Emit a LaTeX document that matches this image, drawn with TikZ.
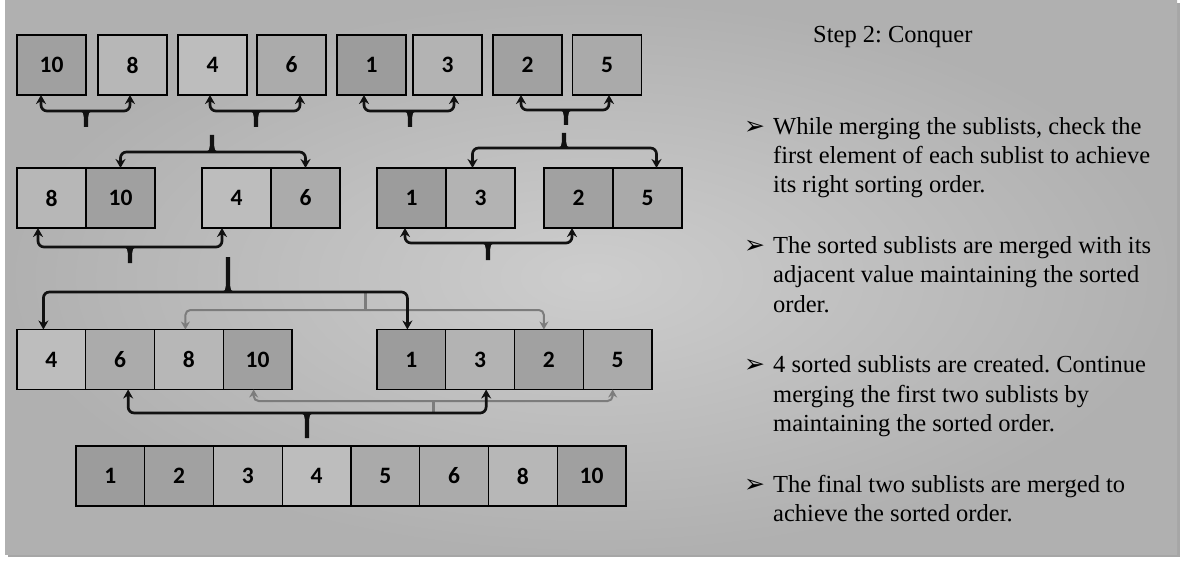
\documentclass[tikz,border=0pt]{standalone}
\usepackage{fontspec}
\setmainfont{Liberation Serif}
\newfontfamily\numfont{Carlito}
\newfontfamily\symfont{DejaVu Sans}
\usepackage{tikz}
\usetikzlibrary{positioning,arrows.meta,shadows}
\definecolor{bgin}{HTML}{CDCDCD}
\definecolor{bgout}{HTML}{B0B0B0}
\definecolor{v1}{HTML}{9C9C9C}
\definecolor{v2}{HTML}{A1A1A1}
\definecolor{v3}{HTML}{B3B3B3}
\definecolor{v4}{HTML}{BDBDBD}
\definecolor{v5}{HTML}{AAAAAA}
\definecolor{v6}{HTML}{ABABAB}
\definecolor{v8}{HTML}{B7B7B7}
\definecolor{v10}{HTML}{A0A0A0}
\definecolor{link}{HTML}{111111}
\definecolor{link2}{HTML}{7C7C7C}
\tikzset{
  cell/.style={draw=black, line width=1.1pt, minimum width=68.75pt, minimum height=60pt,
    inner sep=0pt, outer sep=0pt, font=\numfont\bfseries\fontsize{23.5}{23.5}\selectfont},
  merge/.style={draw=link, line width=2.7pt, rounded corners=6pt,
    arrows={Stealth[length=9pt,width=10pt]-Stealth[length=9pt,width=10pt]}},
  graymerge/.style={draw=link2, line width=2pt, rounded corners=5pt,
    arrows={Stealth[length=8pt,width=9pt]-Stealth[length=8pt,width=9pt]}},
  graystem/.style={draw=link2, line width=3pt},
  textline/.style={anchor=base west, inner sep=0pt, font=\fontsize{24.5}{29.5}\selectfont},
  pointer/.style={anchor=base west, inner sep=0pt, font=\symfont\fontsize{25}{25}\selectfont},
  pics/tip/.style={code={\fill[link] (-6,0) to[out=0,in=90] (-2.2,-6) -- (-2.2,-#1)
    -- (2.2,-#1) -- (2.2,-6) to[out=90,in=180] (6,0) -- cycle;}}
}

\begin{document}
\frenchspacing
\begin{tikzpicture}[x=1pt,y=1pt]
  \useasboundingbox (0,0) rectangle (1186,-564);
  \fill[white] (0,0) rectangle (1186,-564);
  \shade[drop shadow={shadow xshift=3pt,shadow yshift=-3pt,opacity=0.35,fill=black},
    inner color=bgin, outer color=bgout] (5,0) rectangle (1177,-554);

  % single values
  \foreach \v/\x in {10/51.5,8/132.5,4/212.5,6/291.5,1/371.5,3/447.5,2/527.5,5/607}
    \node[cell, fill=v\v, minimum width=69pt] (t\v) at (\x,-65) {\v};

  % pairs
  \foreach \v/\w/\x in {8/10/51.5,4/6/236.5,1/3/411.5,2/5/578.5}{
    \node[cell, fill=v\v, minimum width=69pt] (a\v) at (\x,-198) {\v};
    \node[cell, fill=v\w, minimum width=69pt, right=0pt of a\v] (a\w) {\w};
  }

  % groups of four
  \node[cell, fill=v4] (b4) at (51.4,-359.5) {4};
  \node[cell, fill=v1] (b1) at (411.4,-359.5) {1};
  \foreach \v/\p in {6/4,8/6,10/8,3/1,2/3,5/2}
    \node[cell, fill=v\v, right=0pt of b\p] (b\v) {\v};

  % sorted list
  \node[cell, fill=v1] (c1) at (110.4,-476) {1};
  \foreach \v/\p in {2/1,3/2,4/3,5/4,6/5,8/6,10/8}
    \node[cell, fill=v\v, right=0pt of c\p] (c\v) {\v};

  % merge joints
  \coordinate (j1) at (86,-111);
  \coordinate (j2) at (256,-111);
  \coordinate (j3) at (410,-111);
  \coordinate (j4) at (566,-110);
  \coordinate (j5) at (212,-152);
  \coordinate (j6) at (564,-148);
  \coordinate (j7) at (130,-247);
  \coordinate (j8) at (488,-243);
  \coordinate (j9) at (228,-292);
  \coordinate (j10) at (365,-310);
  \coordinate (j11) at (307,-413);
  \coordinate (j12) at (433,-401);

  % gray links
  \draw[graymerge] ([xshift=-3.5pt]b8.north) |- (j10) -| ([xshift=-5pt]b2.north);
  \draw[graystem] (j10) -- ++(0,17);
  \draw[graymerge] ([xshift=-4pt]b10.south) |- (j12) -| ([xshift=-5pt]b5.south);
  \draw[graystem] (j12) -- ++(0,-12);

  % black links
  \draw[merge] ([xshift=-10.5pt]t10.south) |- (j1) -| ([xshift=-2.5pt]t8.south);
  \pic at (j1) {tip=16};
  \draw[merge] ([xshift=-2.5pt]t4.south) |- (j2) -| ([xshift=8.5pt]t6.south);
  \pic at (j2) {tip=16};
  \draw[merge] ([xshift=-7.5pt]t1.south) |- (j3) -| ([xshift=6.5pt]t3.south);
  \pic at (j3) {tip=16};
  \draw[merge] ([xshift=-6.5pt]t2.south) |- (j4) -| ([xshift=2pt]t5.south);
  \pic at (j4) {tip=15};

  \draw[merge] (a10.north) |- (j5) -| (a6.north);
  \path (j5) pic[yscale=-1] {tip=17};
  \draw[merge] ([xshift=-8pt]a3.north) |- (j6) -| ([xshift=9pt]a5.north);
  \path (j6) pic[yscale=-1] {tip=15};

  \draw[merge] ([xshift=-13.5pt]a8.south) |- (j7) -| ([xshift=-14.5pt]a4.south);
  \pic at (j7) {tip=16};
  \draw[merge] ([xshift=-6.5pt]a1.south) |- (j8) -| ([xshift=-6.5pt]a2.south);
  \pic at (j8) {tip=17};

  \draw[merge] ([xshift=-8pt]b4.north) |- (j9) -| ([xshift=-4pt]b1.north);
  \path (j9) pic[yscale=-1] {tip=35};
  \draw[merge] ([xshift=8pt]b6.south) |- (j11) -| ([xshift=6pt]b3.south);
  \pic at (j11) {tip=25};

  % notes
  \node[textline] (head) at (813,-43) {Step 2: Conquer};
  \foreach \yy in {135,253,372,492}
    \node[pointer] (P\yy) at (744,-\yy) {➢};
  \foreach \yy/\txt in {135/{While merging the sublists, check the},
      164/{first element of each sublist to achieve},
      193/{its right sorting order.},
      253/{The sorted sublists are merged with its},
      282/{adjacent value maintaining the sorted},
      312/{order.},
      372/{4 sorted sublists are created. Continue},
      402/{merging the first two sublists by},
      431/{maintaining the sorted order.},
      492/{The final two sublists are merged to},
      521/{achieve the sorted order.}}
    \node[textline] (L\yy) at (773,-\yy) {\txt};
\end{tikzpicture}
\end{document}
